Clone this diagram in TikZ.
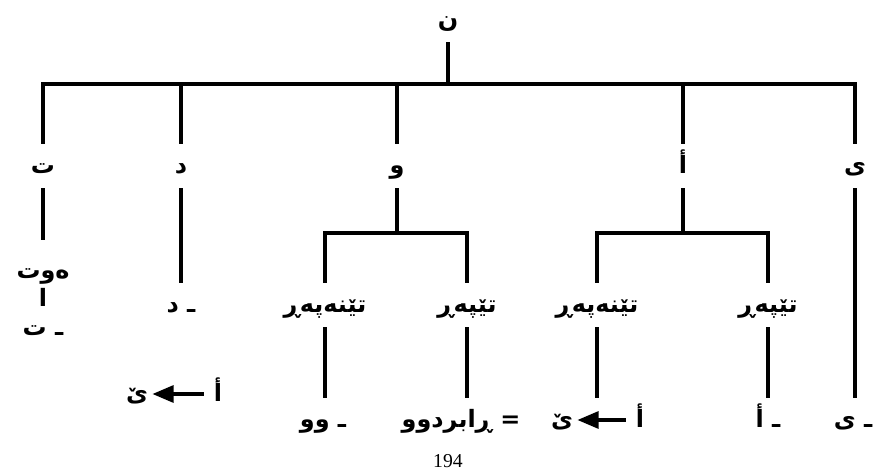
\documentclass[tikz,border=0pt]{standalone}
\usepackage{fontspec}
\setmainfont{Liberation Serif}
\newfontfamily\kurdfont[Script=Arabic]{DejaVu Sans}
\TeXXeTstate=1
\usetikzlibrary{arrows.meta, positioning}
\newcommand{\rl}[1]{\beginR #1\endR}
\tikzset{
  x=0.025cm, y=-0.025cm,
  word/.style={font=\kurdfont\bfseries\fontsize{17}{21}\selectfont, inner sep=0pt,
    minimum height=31pt, text height=14pt, text depth=4pt},
  edge/.style={line width=2.4pt},
  turn/.style={-{Triangle[length=15pt,width=12pt]}, line width=2.4pt,
    shorten <=7pt, shorten >=3pt}
}
\begin{document}
\begin{tikzpicture}
  \useasboundingbox (0,0) rectangle (888,474);
  % root and first level
  \node[word] (n) at (448,20) {\rl{ن}};
  \coordinate (top) at (448,84);
  \node[word] (t) at (43,166) {\rl{ت}};
  \node[word] (d) at (181,166) {\rl{د}};
  \node[word] (w) at (397,166) {\rl{و}};
  \node[word] (a) at (683,166) {\rl{أ}};
  \node[word] (y) at (855,166) {\rl{ی}};
  \draw[edge] (n) -- (top);
  \draw[edge] (t) |- (top) -| (y);
  \draw[edge] (d) -- (d |- top);
  \draw[edge] (w) -- (w |- top);
  \draw[edge] (a) -- (a |- top);
  % t
  \node[word, minimum height=44pt] (tw) at (43,271) {\rl{ەوت}};
  \node[word] (ta) at (43,299) {\rl{ا}};
  \node[word] (tt) at (43,328) {\rl{ـ ت}};
  \draw[edge] (t) -- (tw);
  % d
  \node[word] (dd) at (181,305) {\rl{ـ د}};
  \node[word] (d1) at (137,394) {\rl{ێ}};
  \node[word] (d2) at (218,394) {\rl{أ}};
  \draw[edge] (d) -- (dd);
  \draw[turn] (d2) -- (d1);
  % w
  \coordinate (wbar) at (397,233);
  \node[word] (w1) at (325,305) {\rl{تێنەپەڕ}};
  \node[word] (w2) at (467,305) {\rl{تێپەڕ}};
  \node[word] (w1b) at (323,420) {\rl{ـ وو}};
  \node[word] (w2b) at (461,420) {\rl{= ڕابردوو}};
  \draw[edge] (w) -- (wbar);
  \draw[edge] (w1) |- (wbar) -| (w2);
  \draw[edge] (w1) -- (w1 |- w1b.north);
  \draw[edge] (w2) -- (w2 |- w2b.north);
  % a
  \coordinate (abar) at (683,233);
  \node[word] (a1) at (597,305) {\rl{تێنەپەڕ}};
  \node[word] (a2) at (768,305) {\rl{تێپەڕ}};
  \node[word] (a1l) at (562,420) {\rl{ێ}};
  \node[word] (a1r) at (640,420) {\rl{أ}};
  \node[word] (a2b) at (768,420) {\rl{ـ أ}};
  \draw[edge] (a) -- (abar);
  \draw[edge] (a1) |- (abar) -| (a2);
  \draw[edge] (a1) -- (a1 |- a1l.north);
  \draw[edge] (a2) -- (a2b);
  \draw[turn] (a1r) -- (a1l);
  % y
  \node[word] (yb) at (853,420) {\rl{ـ ی}};
  \draw[edge] (y) -- (y |- yb.north);
  \node[font=\fontsize{14}{16}\selectfont] (page) at (448,461) {194};
\end{tikzpicture}
\end{document}
